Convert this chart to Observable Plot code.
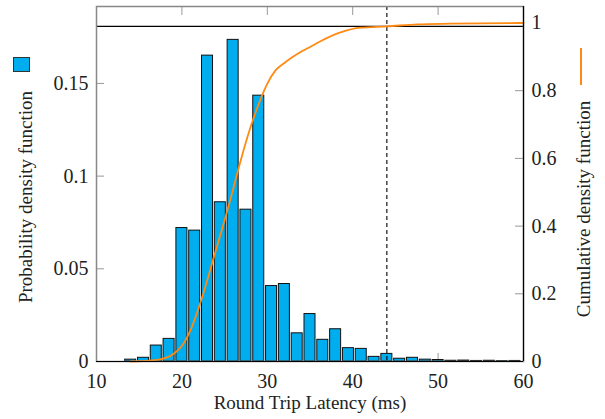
<!DOCTYPE html>
<html>
<head>
<meta charset="utf-8">
<script src="https://cdn.jsdelivr.net/npm/d3@7"></script>
<script src="https://cdn.jsdelivr.net/npm/@observablehq/plot@0.6"></script>
<style>
  html, body { margin: 0; padding: 0; background: #fff; }
  #wrap { position: relative; width: 605px; height: 419px; }
  .sw { position: absolute; box-sizing: border-box; }
</style>
</head>
<body>
<div id="wrap"></div>
<script>
// ---- data ----
const binCenters = [14, 15.5, 17, 18.5, 20, 21.5, 23, 24.5, 26, 27.5, 29, 30.5, 32, 33.5, 35, 36.5, 38, 39.5, 41, 42.5, 44, 45.5, 47, 48.5, 50, 51.5, 53, 54.5, 56, 57.5, 59];
const pdfValues  = [0.001, 0.002, 0.0086, 0.0122, 0.072, 0.0706, 0.165, 0.0859, 0.1735, 0.0819, 0.1434, 0.0407, 0.0418, 0.0152, 0.0256, 0.0117, 0.0174, 0.0072, 0.0068, 0.0025, 0.0041, 0.0015, 0.002, 0.001, 0.0008, 0.0004, 0.0005, 0.0003, 0.0004, 0.0002, 0.0003];
const cdfX = [14, 17.1, 19.05, 20.03, 21.0, 22.37, 23.73, 25.1, 25.8, 26.67, 28.03, 29.0, 29.99, 30.96, 32.0, 33.0, 34.0, 35.06, 36.23, 38.57, 40.9, 44.04, 47.55, 51.45, 60];
const cdfY = [0, 0.005, 0.023, 0.047, 0.092, 0.19, 0.307, 0.426, 0.49, 0.574, 0.692, 0.761, 0.82, 0.86, 0.882, 0.9, 0.916, 0.93, 0.946, 0.972, 0.986, 0.99, 0.996, 0.998, 1.0];
const xTicks = [10, 20, 30, 40, 50, 60];
const pdfTicks = [0, 0.05, 0.1, 0.15];
const cdfTicks = [0, 0.2, 0.4, 0.6, 0.8, 1];
const percentileLevel = 0.99;
const percentileX = 44;
const binWidth = 1.5;

// scales: left axis (pdf) max, right axis (cdf) max
const pdfMax = 0.1915;
const cdfMax = 1.0487;
const k = pdfMax / cdfMax; // cdf -> pdf-axis units

const bars = binCenters.map((c, i) => ({x1: c - binWidth / 2, x2: c + binWidth / 2, y: pdfValues[i]}));
const cdf = cdfX.map((x, i) => ({x, y: cdfY[i] * k}));

const FONT = "Liberation Serif, Times New Roman, serif";
const blue = "#00aeef";
const orange = "#ff8a12";

const chart = Plot.plot({
  width: 605,
  height: 419,
  marginLeft: 96,
  marginRight: 82,
  marginTop: 6,
  marginBottom: 58,
  style: {fontFamily: FONT, fontSize: "19px", background: "#fff", color: "#222"},
  x: {domain: [10, 60]},
  y: {domain: [0, pdfMax]},
  marks: [
    Plot.axisX({anchor: "bottom", ticks: xTicks, tickSize: -8, tickPadding: 20, stroke: "#999", fill: "#222", fontSize: 20, label: null, tickFormat: d => String(d)}),
    Plot.axisX({anchor: "top", ticks: xTicks, tickSize: -8, stroke: "#999", label: null, tickFormat: () => ""}),
    Plot.axisY({anchor: "left", ticks: pdfTicks, tickSize: -8, tickPadding: 16, stroke: "#999", fill: "#222", fontSize: 20, label: null, tickFormat: d => String(d)}),
    Plot.axisY({anchor: "right", ticks: cdfTicks.map(t => t * k), tickSize: -9, tickPadding: 17, stroke: "#999", fill: "#222", fontSize: 20, label: null, tickFormat: d => String(+(d / k).toFixed(2))}),
    Plot.rectY(bars, {x1: "x1", x2: "x2", y: "y", fill: blue, stroke: "#111", strokeWidth: 1, insetLeft: 0.9, insetRight: 0.9}),
    Plot.ruleY([percentileLevel * k], {stroke: "#000", strokeWidth: 1.2}),
    Plot.ruleX([percentileX], {stroke: "#000", strokeWidth: 1.1, strokeDasharray: "4,3"}),
    Plot.line(cdf, {x: "x", y: "y", stroke: orange, strokeWidth: 1.8, curve: "monotone-x"}),
    Plot.frame({stroke: "#888", strokeWidth: 1.5}),
    Plot.ruleY([0], {stroke: "#000", strokeWidth: 1.2}),
    Plot.ruleX([60], {stroke: "#000", strokeWidth: 1.2}),
    Plot.text(["Round Trip Latency (ms)"], {text: d => d, frameAnchor: "bottom", textAnchor: "middle", dy: 47, fontSize: 19, fill: "#222"}),
    Plot.text(["Probability density function"], {text: d => d, frameAnchor: "left", textAnchor: "middle", lineAnchor: "middle", dx: -71, dy: 13, rotate: -90, fontSize: 19, fill: "#222"}),
    Plot.text(["Cumulative density function"], {text: d => d, frameAnchor: "right", textAnchor: "middle", lineAnchor: "middle", dx: 60, dy: 25, rotate: -90, fontSize: 19, fill: "#222"})
  ]
});

const wrap = document.getElementById("wrap");
wrap.appendChild(chart);
const sq = document.createElement("div");
sq.className = "sw";
Object.assign(sq.style, {left: "13px", top: "57px", width: "17px", height: "15px", background: blue, border: "1.5px solid #333"});
wrap.appendChild(sq);
const ln = document.createElement("div");
ln.className = "sw";
Object.assign(ln.style, {left: "580px", top: "48px", width: "2px", height: "37px", background: orange});
wrap.appendChild(ln);
</script>
</body>
</html>
